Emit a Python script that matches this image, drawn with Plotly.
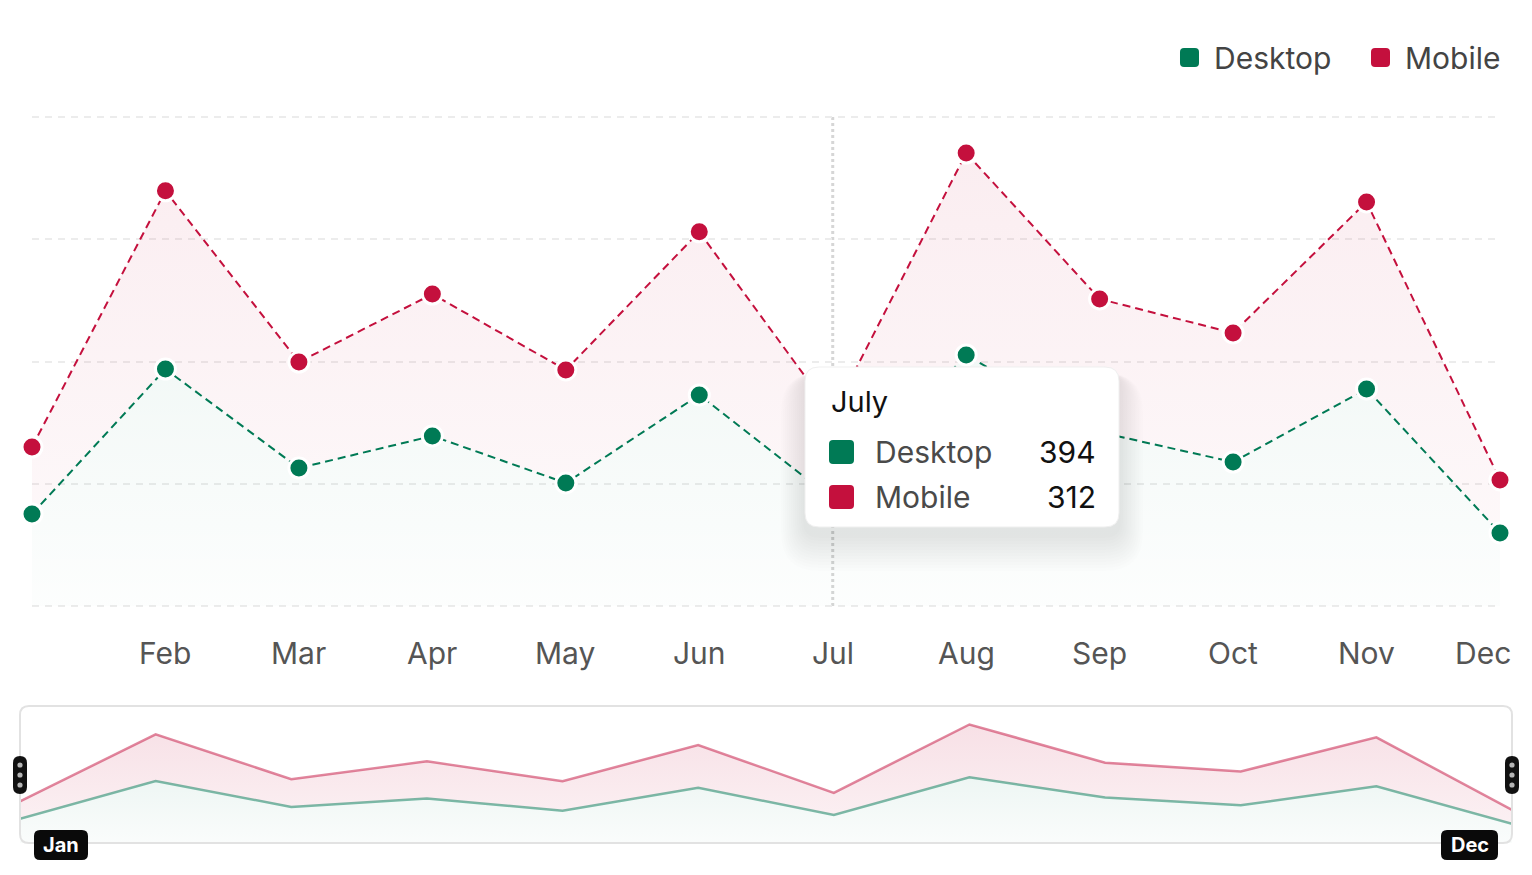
import plotly.graph_objects as go

W, H = 1532, 875
# the page body adds an 8px margin round the figure
OFF = 8

# data
months = ["Jan", "Feb", "Mar", "Apr", "May", "Jun",
          "Jul", "Aug", "Sep", "Oct", "Nov", "Dec"]
desktop = [339, 872, 508, 626, 453, 777, 394, 924, 640, 530, 799, 269]
mobile = [246, 656, 390, 522, 416, 600, 312, 743, 490, 475, 688, 195]
tick_months = months[1:]
y_ticks = [0, 450, 900, 1350, 1800]

hover_month = "Jul"
hover_title = "July"

GREEN = "#007a55"
RED = "#c4103d"
FONT = "Inter"


def px(x):
    return (x - OFF) / W


def py(y):
    return (H - (y - OFF)) / H


def rrect(x0, y0, x1, y1, r):
    # rounded rectangle path, screen pixels -> paper coords
    pts = [
        ("M", [(x0 + r, y0)]), ("L", [(x1 - r, y0)]), ("Q", [(x1, y0), (x1, y0 + r)]),
        ("L", [(x1, y1 - r)]), ("Q", [(x1, y1), (x1 - r, y1)]),
        ("L", [(x0 + r, y1)]), ("Q", [(x0, y1), (x0, y1 - r)]),
        ("L", [(x0, y0 + r)]), ("Q", [(x0, y0), (x0 + r, y0)]),
    ]
    s = ""
    for cmd, ps in pts:
        s += cmd + " " + " ".join(f"{px(a):.6f},{py(b):.6f}" for a, b in ps) + " "
    return s + "Z"


fig = go.Figure()

# main chart
fig.add_trace(go.Scatter(
    x=months, y=desktop, name="Desktop", stackgroup="main", mode="lines+markers",
    line=dict(color=GREEN, width=2, dash="8px,5px"),
    marker=dict(size=20, color=GREEN, line=dict(color="white", width=3)),
    fillgradient=dict(type="vertical", start=0, stop=1800,
                      colorscale=[[0, "rgba(0,122,85,0.01)"], [1, "rgba(0,122,85,0.09)"]]),
    cliponaxis=False, hoverinfo="skip",
))
fig.add_trace(go.Scatter(
    x=months, y=mobile, name="Mobile", stackgroup="main", mode="lines+markers",
    line=dict(color=RED, width=2, dash="8px,5px"),
    marker=dict(size=20, color=RED, line=dict(color="white", width=3)),
    fillgradient=dict(type="vertical", start=0, stop=1800,
                      colorscale=[[0, "rgba(196,16,61,0.02)"], [1, "rgba(196,16,61,0.08)"]]),
    cliponaxis=False, hoverinfo="skip",
))

# minimap
fig.add_trace(go.Scatter(
    x=months, y=desktop, stackgroup="mini", mode="lines", xaxis="x2", yaxis="y2",
    line=dict(color="rgba(0,122,85,0.5)", width=2.5),
    fillgradient=dict(type="vertical", start=0, stop=1900,
                      colorscale=[[0, "rgba(0,122,85,0.02)"], [1, "rgba(0,122,85,0.12)"]]),
    hoverinfo="skip",
))
fig.add_trace(go.Scatter(
    x=months, y=mobile, stackgroup="mini", mode="lines", xaxis="x2", yaxis="y2",
    line=dict(color="rgba(196,16,61,0.5)", width=2.5),
    fillgradient=dict(type="vertical", start=0, stop=1900,
                      colorscale=[[0, "rgba(196,16,61,0.05)"], [1, "rgba(196,16,61,0.14)"]]),
    hoverinfo="skip",
))

shapes = []
annotations = []

# hover spike line at July
shapes.append(dict(type="line", xref="x", yref="y", x0=hover_month, x1=hover_month,
                   y0=0, y1=1800, line=dict(color="#d6d6d6", width=3, dash="dot"),
                   layer="below"))

# x tick labels
for i, m in enumerate(tick_months):
    last = i == len(tick_months) - 1
    annotations.append(dict(
        x=m, y=0, xref="x", yref="y", text=m, showarrow=False,
        xanchor="right" if last else "center", yanchor="top",
        xshift=13 if last else 0, yshift=-27,
        font=dict(family=FONT, size=30, color="#555555"),
    ))

# legend
for label, color, x0 in [("Desktop", GREEN, 1180), ("Mobile", RED, 1371)]:
    shapes.append(dict(type="path", xref="paper", yref="paper",
                       path=rrect(x0, 48, x0 + 19, 67, 4), fillcolor=color, line=dict(width=0)))
    annotations.append(dict(x=px(x0 + 32), y=py(58), xref="paper", yref="paper", text=label,
                            showarrow=False, xanchor="left", yanchor="middle",
                            font=dict(family=FONT, size=30, color="#444444")))

# minimap panel
shapes.append(dict(type="path", xref="paper", yref="paper",
                   path=rrect(20, 706, 1512, 843, 9), fillcolor="rgba(0,0,0,0)",
                   line=dict(color="#e2e2e2", width=2), layer="above"))
for hx in [20, 1512]:
    shapes.append(dict(type="path", xref="paper", yref="paper",
                       path=rrect(hx - 7, 756, hx + 7, 794, 7), fillcolor="#111111",
                       line=dict(width=0), layer="above"))
    for dy in [765, 775, 785]:
        shapes.append(dict(type="circle", xref="paper", yref="paper",
                           x0=px(hx - 2.6), x1=px(hx + 2.6), y0=py(dy - 2.6), y1=py(dy + 2.6),
                           fillcolor="#b5b5b5", line=dict(width=0), layer="above"))
for label, x0, x1 in [(months[0], 34, 88), (months[-1], 1441, 1498)]:
    shapes.append(dict(type="path", xref="paper", yref="paper",
                       path=rrect(x0, 830, x1, 860, 6), fillcolor="#0a0a0a",
                       line=dict(width=0), layer="above"))
    annotations.append(dict(x=px((x0 + x1) / 2), y=py(845), xref="paper", yref="paper",
                            text=f"<b>{label}</b>", showarrow=False,
                            xanchor="center", yanchor="middle",
                            font=dict(family=FONT, size=20, color="white")))

# tooltip
tx0, ty0, tx1, ty1 = 805, 367, 1119, 527
for k in range(12, 0, -1):
    shapes.append(dict(type="path", xref="paper", yref="paper",
                       path=rrect(tx0 - k * 2, ty0 + 6, tx1 + k * 2, ty1 + 8 + k * 3, 14 + k * 2),
                       fillcolor="rgba(0,0,0,0.008)", line=dict(width=0), layer="above"))
shapes.append(dict(type="path", xref="paper", yref="paper",
                   path=rrect(tx0, ty0, tx1, ty1, 14), fillcolor="white",
                   line=dict(color="#efefef", width=1), layer="above"))
annotations.append(dict(x=px(829), y=py(401), xref="paper", yref="paper", text=hover_title,
                        showarrow=False, xanchor="left", yanchor="middle",
                        font=dict(family=FONT, size=29, color="#111111")))
hi = months.index(hover_month)
for label, color, val, ry in [("Desktop", GREEN, desktop[hi], 452), ("Mobile", RED, mobile[hi], 497)]:
    shapes.append(dict(type="path", xref="paper", yref="paper",
                       path=rrect(829, ry - 12, 854, ry + 12, 4), fillcolor=color,
                       line=dict(width=0), layer="above"))
    annotations.append(dict(x=px(873), y=py(ry), xref="paper", yref="paper", text=label,
                            showarrow=False, xanchor="left", yanchor="middle",
                            font=dict(family=FONT, size=30, color="#4a4a4a")))
    annotations.append(dict(x=px(1098), y=py(ry), xref="paper", yref="paper", text=str(val),
                            showarrow=False, xanchor="right", yanchor="middle",
                            font=dict(family=FONT, size=30, color="#111111")))

fig.update_layout(
    width=W, height=H,
    margin=dict(l=0, r=0, t=0, b=0),
    paper_bgcolor="white", plot_bgcolor="white",
    showlegend=False,
    font=dict(family=FONT),
    xaxis=dict(domain=[px(32), px(1500)], range=[0, 11], showgrid=False,
               showticklabels=False, zeroline=False, showline=False, fixedrange=True),
    yaxis=dict(domain=[py(608), py(115)], range=[-7, 1807], tickvals=y_ticks,
               showticklabels=False, showgrid=True, gridcolor="#ececec", gridwidth=1.5,
               griddash="7px,6px", zeroline=False, showline=False, fixedrange=True),
    xaxis2=dict(domain=[px(20), px(1512)], range=[0, 11], anchor="y2", visible=False),
    yaxis2=dict(domain=[py(843), py(706)], range=[0, 1927], anchor="x2", visible=False),
    shapes=shapes,
    annotations=annotations,
)

fig.write_html("out.html")
